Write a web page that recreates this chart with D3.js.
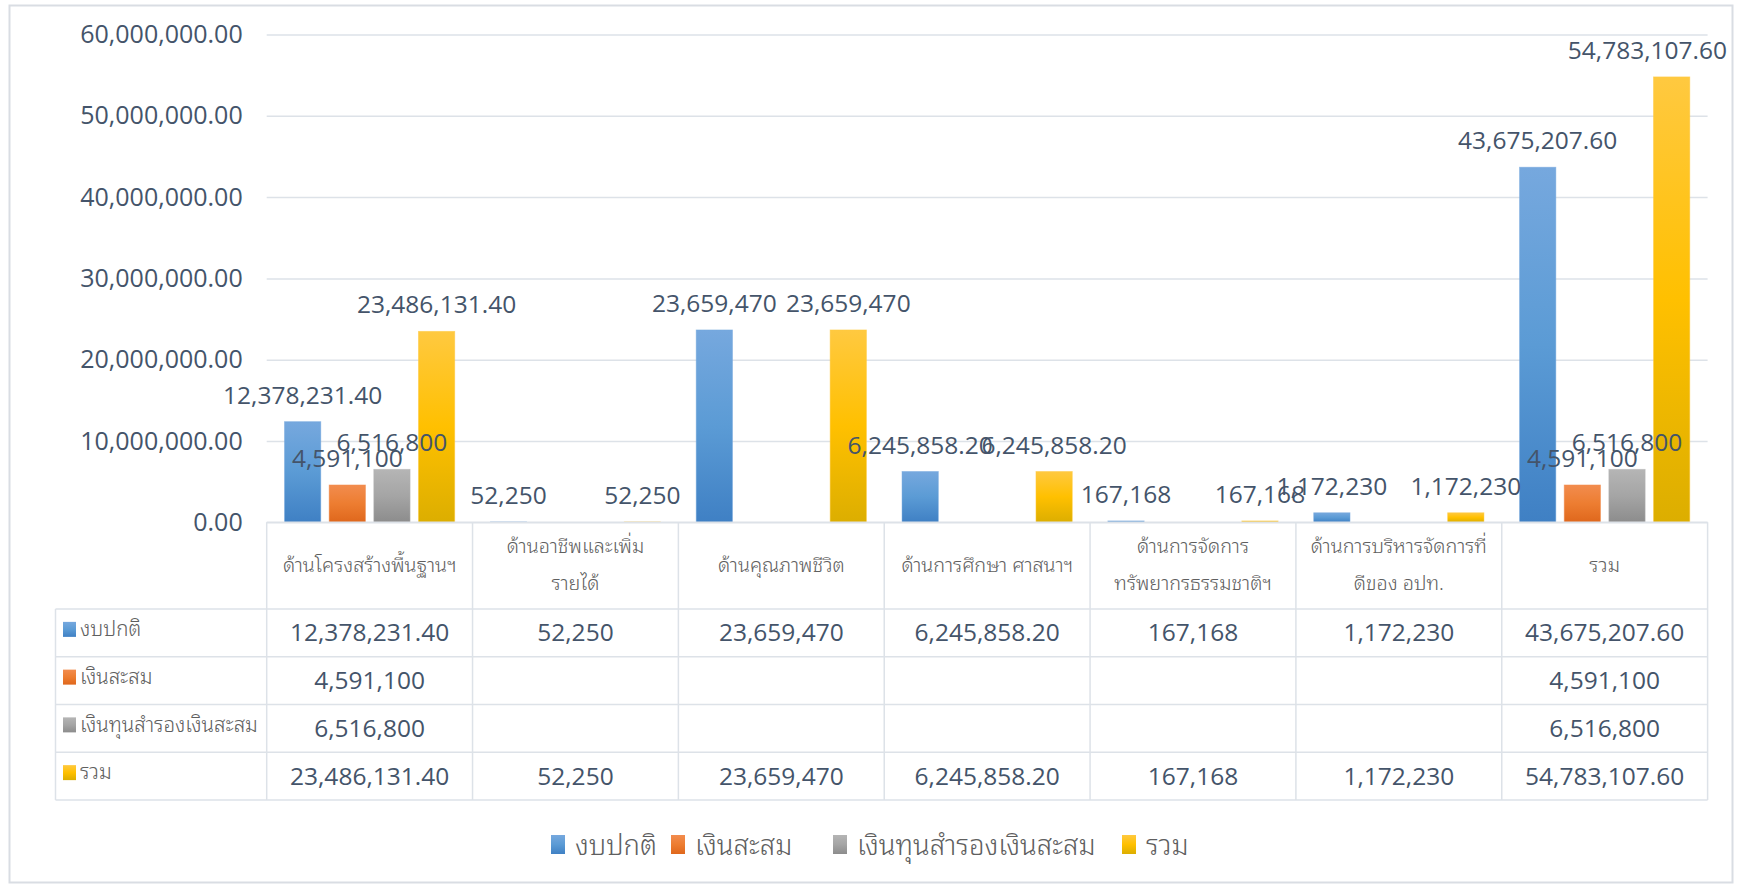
<!DOCTYPE html>
<html><head><meta charset="utf-8">
<script src="https://cdn.jsdelivr.net/npm/d3@7"></script>
<style>
html,body{margin:0;padding:0;background:#fff;}
svg{display:block;}
</style></head>
<body>
<svg id="chart" width="1742" height="888"></svg>
<script>
// ---- data ----
const categories = [
  ["ด้านโครงสร้างพื้นฐานฯ"],
  ["ด้านอาชีพและเพิ่ม", "รายได้"],
  ["ด้านคุณภาพชีวิต"],
  ["ด้านการศึกษา ศาสนาฯ"],
  ["ด้านการจัดการ", "ทรัพยากรธรรมชาติฯ"],
  ["ด้านการบริหารจัดการที่", "ดีของ อปท."],
  ["รวม"]
];
const seriesNames = ["งบปกติ", "เงินสะสม", "เงินทุนสำรองเงินสะสม", "รวม"];
const regularBudget = [12378231.40, 52250, 23659470, 6245858.20, 167168, 1172230, 43675207.60];
const accumulated   = [4591100, null, null, null, null, null, 4591100];
const reserveFund   = [6516800, null, null, null, null, null, 6516800];
const totals        = [23486131.40, 52250, 23659470, 6245858.20, 167168, 1172230, 54783107.60];
const yTicks = [0, 10000000, 20000000, 30000000, 40000000, 50000000, 60000000];

const seriesValues = [regularBudget, accumulated, reserveFund, totals];
const colorStops = [
  ["#76a8de", "#5b9bd5", "#3f80c4"],
  ["#f28c4e", "#ed7d31", "#df671c"],
  ["#b5b5b5", "#a5a5a5", "#8c8c8c"],
  ["#ffc940", "#ffc000", "#dcae00"]
];

// ---- layout ----
const svg = d3.select("#chart");
const plotL = 266.7, plotR = 1707.6, plotT = 34.5, plotB = 522.3;
const tableL = 55.5, headerB = 609, tableB = 800;
const textCol = "#44546a", catCol = "#5f5f5f", lineCol = "#dde2e8";
const numFont = "'Open Sans', 'Noto Sans', sans-serif";
const thaiFont = "'Noto Sans Thai Looped', 'Loma', 'Garuda', 'Tahoma', 'Noto Sans Thai', 'Noto Sans', sans-serif";

// outer frame
svg.append("rect").attr("x", 9.5).attr("y", 5.5).attr("width", 1723).attr("height", 877)
  .attr("fill", "#fff").attr("stroke", "#d9dde3").attr("stroke-width", 2);

const y = d3.scaleLinear().domain([0, 60000000]).range([plotB, plotT]);
const x0 = d3.scaleBand().domain(d3.range(categories.length)).range([plotL, plotR]).paddingInner(0).paddingOuter(0);
const groupPad = 17.8;
const x1 = d3.scaleBand().domain(d3.range(seriesNames.length))
  .range([groupPad, x0.bandwidth() - groupPad]).paddingInner(0.187).paddingOuter(0);

// gradients
const defs = svg.append("defs");
colorStops.forEach((c, i) => {
  const g = defs.append("linearGradient").attr("id", "g" + i)
    .attr("x1", 0).attr("y1", 0).attr("x2", 0).attr("y2", 1);
  g.append("stop").attr("offset", "0%").attr("stop-color", c[0]);
  g.append("stop").attr("offset", "50%").attr("stop-color", c[1]);
  g.append("stop").attr("offset", "100%").attr("stop-color", c[2]);
});

// gridlines + y axis
const yAxis = d3.axisLeft(y).tickValues(yTicks).tickFormat(d3.format(",.2f"))
  .tickSize(-(plotR - plotL)).tickPadding(24);
const ga = svg.append("g").attr("transform", `translate(${plotL},0)`).call(yAxis);
ga.select(".domain").remove();
ga.selectAll(".tick line").attr("stroke", lineCol).attr("stroke-width", 1.5);
ga.selectAll(".tick text").attr("fill", textCol).attr("font-family", numFont)
  .attr("font-size", 25).attr("dx", 0);

// bars
const fmtVal = v => Number.isInteger(v) ? d3.format(",")(v) : d3.format(",.2f")(v);
const barData = [];
seriesValues.forEach((vals, s) => vals.forEach((v, c) => { if (v != null) barData.push({s, c, v}); }));

svg.append("g").selectAll("rect").data(barData).join("rect")
  .attr("x", d => x0(d.c) + x1(d.s))
  .attr("width", x1.bandwidth())
  .attr("y", d => y(d.v))
  .attr("height", d => Math.max(0, y(0) - y(d.v)))
  .attr("fill", d => `url(#g${d.s})`)
  .attr("stroke", d => colorStops[d.s][0]).attr("stroke-width", 0.8).attr("stroke-opacity", 0.6);

const labels = svg.append("g").selectAll("text").data(barData).join("text")
  .attr("x", d => x0(d.c) + x1(d.s) + x1.bandwidth() / 2)
  .attr("y", d => y(d.v) - 18)
  .attr("text-anchor", "middle")
  .attr("font-family", numFont).attr("font-size", 24.5).attr("fill", textCol)
  .text(d => fmtVal(d.v));
// keep labels inside the chart frame (like Excel does)
labels.each(function() {
  const bb = this.getBBox();
  const maxR = 1727;
  if (bb.x + bb.width > maxR) {
    d3.select(this).attr("x", +d3.select(this).attr("x") - (bb.x + bb.width - maxR));
  }
});

// ---- data table ----
const tg = svg.append("g");
const rowY = d3.scaleBand().domain(d3.range(seriesNames.length)).range([headerB, tableB]);

tg.append("line").attr("x1", plotL).attr("x2", plotR).attr("y1", plotB).attr("y2", plotB)
  .attr("stroke", lineCol).attr("stroke-width", 1.5);
d3.range(seriesNames.length + 1).forEach(i => {
  const yy = headerB + i * rowY.step();
  tg.append("line").attr("x1", tableL).attr("x2", plotR).attr("y1", yy).attr("y2", yy)
    .attr("stroke", lineCol).attr("stroke-width", 1.5);
});
d3.range(categories.length + 1).forEach(i => {
  const xx = plotL + i * x0.step();
  tg.append("line").attr("x1", xx).attr("x2", xx).attr("y1", plotB).attr("y2", tableB)
    .attr("stroke", lineCol).attr("stroke-width", 1.5);
});
tg.append("line").attr("x1", tableL).attr("x2", tableL).attr("y1", headerB).attr("y2", tableB)
  .attr("stroke", lineCol).attr("stroke-width", 1.5);

// category headers
categories.forEach((lines, c) => {
  const cx = x0(c) + x0.bandwidth() / 2;
  const mid = (plotB + headerB) / 2 - 1;
  const lh = 37;
  lines.forEach((t, k) => {
    tg.append("text").attr("x", cx)
      .attr("y", mid + (k - (lines.length - 1) / 2) * lh)
      .attr("dy", "0.35em").attr("text-anchor", "middle")
      .attr("font-family", thaiFont).attr("font-weight", 300)
      .attr("font-size", 19.8).attr("fill", catCol)
      .text(t);
  });
});

// row headers
seriesNames.forEach((n, s) => {
  const cy = rowY(s) + rowY.bandwidth() / 2;
  tg.append("rect").attr("x", 63).attr("y", cy - 11).attr("width", 13).attr("height", 15)
    .attr("fill", `url(#g${s})`);
  tg.append("text").attr("x", 80).attr("y", cy - 4).attr("dy", "0.35em")
    .attr("font-family", thaiFont).attr("font-weight", 300)
    .attr("font-size", 20.5).attr("fill", catCol).text(n);
});

// cell values
seriesValues.forEach((vals, s) => vals.forEach((v, c) => {
  if (v == null) return;
  tg.append("text").attr("x", x0(c) + x0.bandwidth() / 2)
    .attr("y", rowY(s) + rowY.bandwidth() / 2).attr("dy", "0.35em")
    .attr("text-anchor", "middle").attr("font-family", numFont).attr("font-size", 24.5)
    .attr("fill", textCol).text(fmtVal(v));
}));

// ---- legend ----
const legendX = [551, 671, 833, 1122];
const lg = svg.append("g");
seriesNames.forEach((n, s) => {
  lg.append("rect").attr("x", legendX[s]).attr("y", 835).attr("width", 14).attr("height", 19)
    .attr("fill", `url(#g${s})`);
  lg.append("text").attr("x", legendX[s] + 24).attr("y", 845).attr("dy", "0.35em")
    .attr("font-family", thaiFont).attr("font-weight", 300)
    .attr("font-size", 27.5).attr("fill", catCol).text(n);
});
</script>
</body></html>
